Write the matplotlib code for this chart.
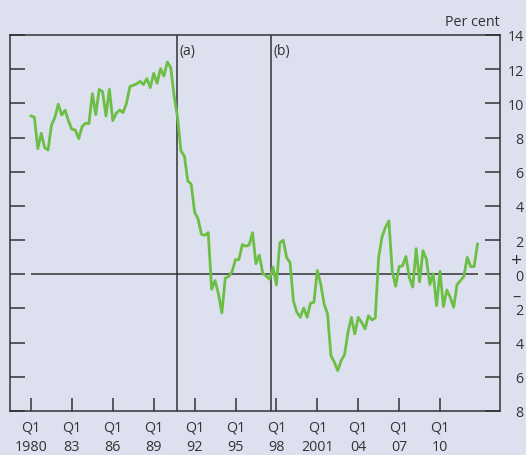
import numpy as np
import matplotlib
matplotlib.use("Agg")
import matplotlib.pyplot as plt

plt.rcParams["font.family"] = ["Open Sans", "DejaVu Sans"]

# quarterly series, 1980 Q1 onwards (per cent)
values = [
    9.26, 9.19, 7.35, 8.25, 7.41, 7.27, 8.72, 9.17, 9.95, 9.32,
    9.60, 8.97, 8.48, 8.44, 7.94, 8.64, 8.84, 8.82, 10.57, 9.34,
    10.82, 10.69, 9.26, 10.82, 8.99, 9.42, 9.61, 9.46, 9.99, 10.98,
    11.06, 11.14, 11.29, 11.10, 11.45, 10.92, 11.76, 11.18, 12.03, 11.60,
    12.42, 12.09, 10.43, 9.17, 7.21, 6.92, 5.46, 5.27, 3.64, 3.25,
    2.34, 2.28, 2.44, -0.88, -0.37, -1.15, -2.26, -0.23, -0.13, 0.16,
    0.86, 0.86, 1.74, 1.64, 1.71, 2.44, 0.62, 1.12, 0.04, -0.10,
    -0.29, 0.43, -0.62, 1.85, 1.99, 0.98, 0.68, -1.58, -2.22, -2.52,
    -1.97, -2.52, -1.70, -1.64, 0.22, -0.57, -1.74, -2.32, -4.76, -5.15,
    -5.64, -5.05, -4.70, -3.39, -2.52, -3.49, -2.52, -2.81, -3.20, -2.42,
    -2.67, -2.56, 0.99, 2.20, 2.75, 3.12, 0.15, -0.70, 0.45, 0.50,
    1.04, -0.19, -0.75, 1.50, -0.45, 1.38, 0.90, -0.60, 0.02, -1.83,
    0.18, -1.89, -0.92, -1.35, -1.93, -0.60, -0.37, -0.12, 0.99, 0.45,
    0.45, 1.77,
]
start_year = 1980
tick_years = [1980, 1983, 1986, 1989, 1992, 1995, 1998, 2001, 2004, 2007, 2010]
tick_labels = ["Q1\n1980", "Q1\n83", "Q1\n86", "Q1\n89", "Q1\n92", "Q1\n95",
               "Q1\n98", "Q1\n2001", "Q1\n04", "Q1\n07", "Q1\n10"]
y_ticks = [14, 12, 10, 8, 6, 4, 2, 0, -2, -4, -6, -8]
events = [(1990.72, "(a)"), (1997.6, "(b)")]

bg = "#dde0ee"
dark = "#333333"
green = "#6cbf45"

t = start_year + np.arange(len(values)) / 4

fig = plt.figure(figsize=(5.26, 4.56), dpi=100, facecolor=bg)
ax = fig.add_axes([10 / 526, 44 / 456, 490 / 526, 376 / 456], facecolor=bg)

ax.hlines(0, t[0], t[-1], color=dark, linewidth=1.1, zorder=1)
for xe, lab in events:
    ax.axvline(xe, color=dark, linewidth=1.1, zorder=1)
    ax.text(xe + 0.2, 13.55, lab, ha="left", va="top", fontsize=10, color=dark)

ax.plot(t, values, color=green, linewidth=2.0, zorder=3)

ax.set_xlim(1978.46, 2014.4)
ax.set_ylim(-8, 14)

ax.set_xticks(tick_years)
ax.set_xticklabels(tick_labels, fontsize=10.3, color=dark, linespacing=1.45)
ax.tick_params(axis="x", direction="in", length=9.7, width=1.1, color=dark, pad=6)

ax.set_yticks(y_ticks)
ax.set_yticklabels([str(abs(v)) for v in y_ticks], fontsize=10.3, color=dark)
ax.yaxis.tick_right()
ax.tick_params(axis="y", which="both", left=True, right=True, direction="in",
               length=10.5, width=1.1, color=dark, pad=17)
for lab in ax.get_yticklabels():
    lab.set_horizontalalignment("right")

for s in ax.spines.values():
    s.set_color(dark)
    s.set_linewidth(1.1)

ax.text(1.033, (0.86 + 8) / 22, "+", transform=ax.transAxes, ha="center",
        va="center", fontsize=14, color=dark)
ax.text(1.033, (-1.3 + 8) / 22, "\u2013", transform=ax.transAxes, ha="center",
        va="center", fontsize=12, color=dark)
fig.text(500 / 526, 1 - 23 / 456, "Per cent", ha="right", va="center",
         fontsize=10.3, color=dark)

fig.savefig("out.png", dpi=100, facecolor=bg)
